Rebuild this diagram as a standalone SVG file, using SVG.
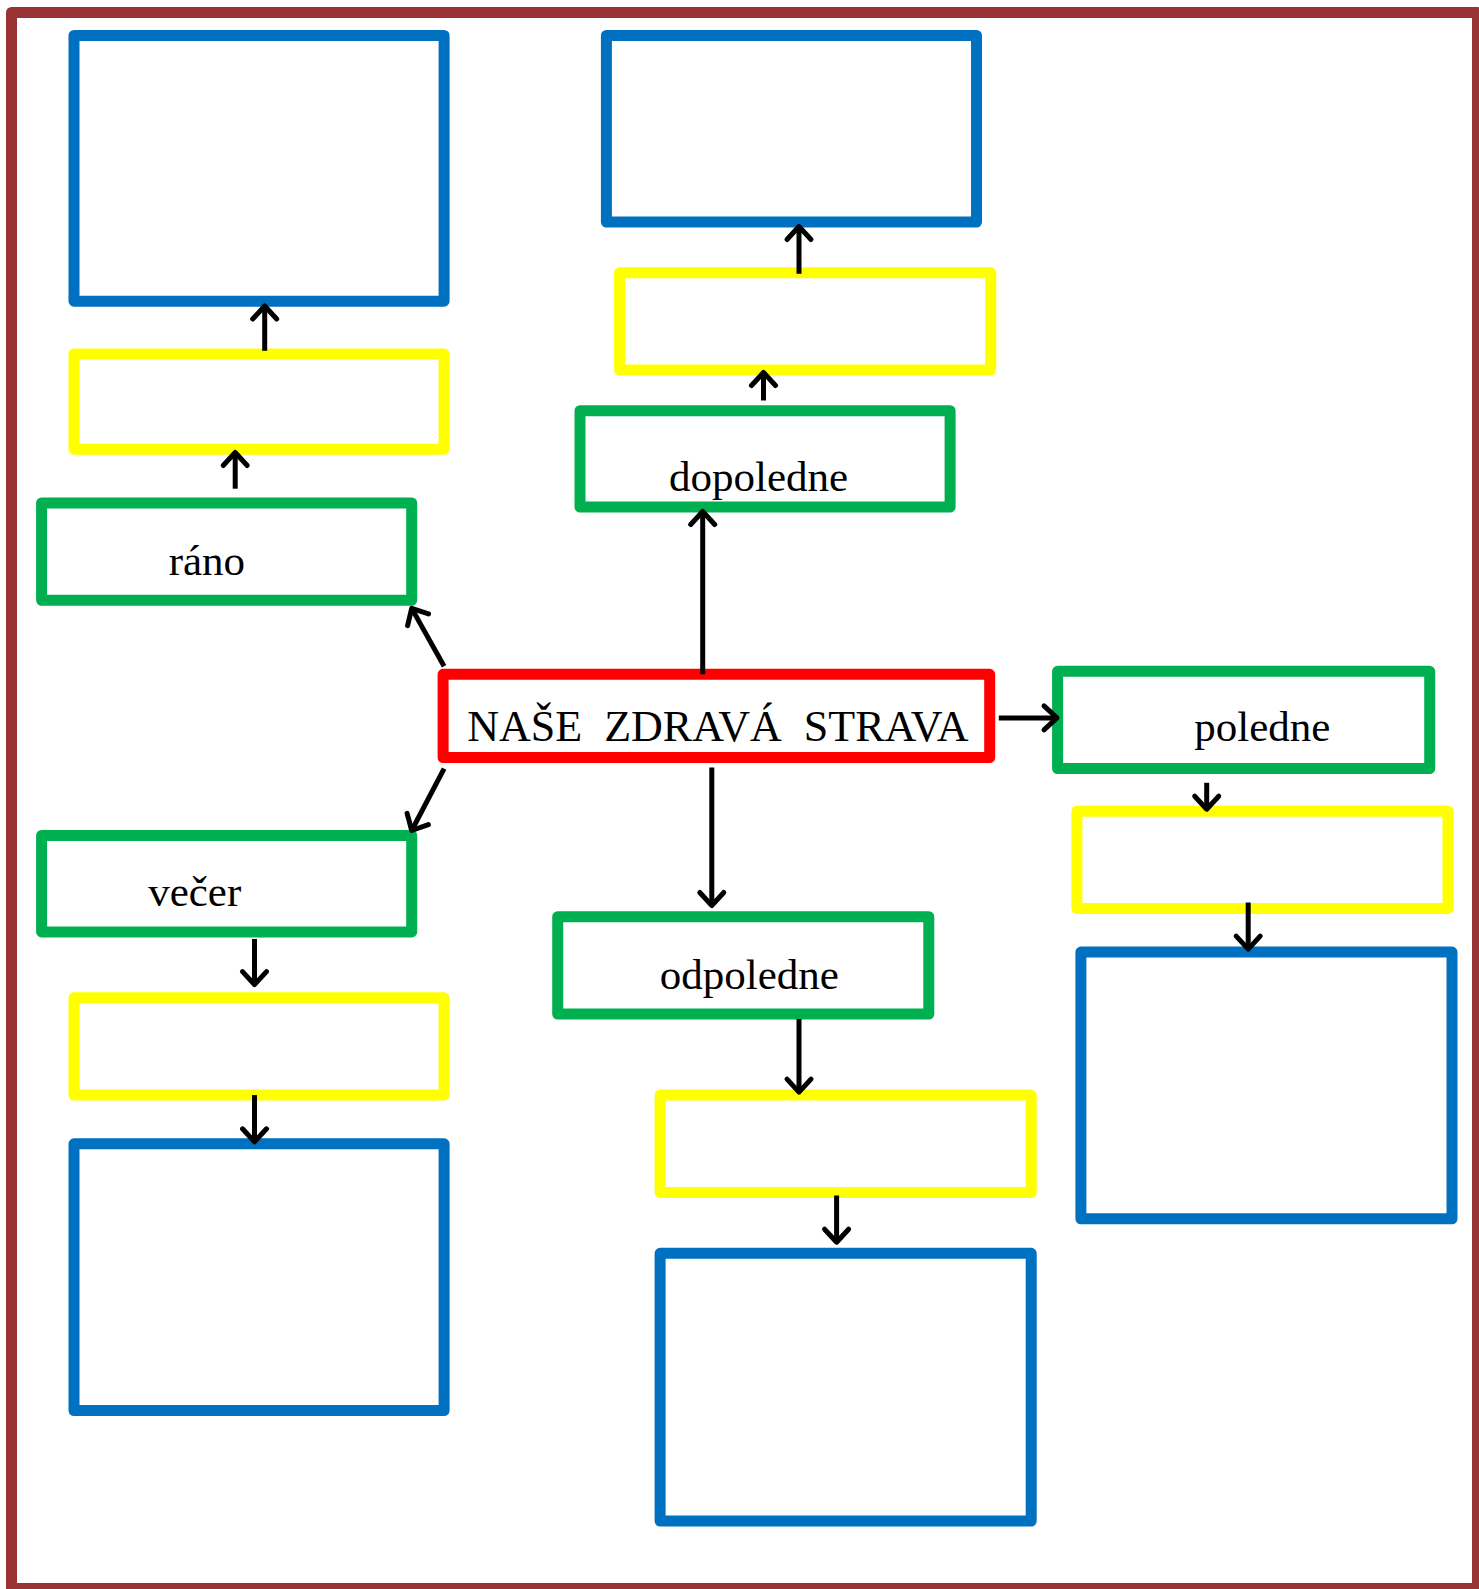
<svg xmlns="http://www.w3.org/2000/svg" width="1479" height="1589" viewBox="0 0 1479 1589">
<style>
.b{fill:none;stroke-width:11;stroke-linejoin:round}
.blue{stroke:#0070C0}
.yel{stroke:#FFFF00}
.grn{stroke:#00B050}
.red{stroke:#FF0000}
.t{font-family:"Liberation Serif","Times New Roman",serif;font-size:43px;fill:#000;text-anchor:middle}
.title{font-size:44px}
.c{fill:none;stroke:#000;stroke-width:5;marker-end:url(#ah)}
</style>
<defs>
<marker id="ah" markerUnits="userSpaceOnUse" markerWidth="40" markerHeight="40" viewBox="-20 -20 40 40" refX="0" refY="0" orient="auto">
<path d="M-13,-12 L0,0 L-13,12" fill="none" stroke="#000" stroke-width="5" stroke-linecap="round" stroke-linejoin="round"/>
</marker>
</defs>
<rect x="0" y="0" width="1479" height="1589" fill="#fff"/>
<rect id="frame" x="11.5" y="12.5" width="1466" height="1576" fill="none" stroke="#993333" stroke-width="11" stroke-linejoin="round"/>

<g id="blue-rano"><rect class="b blue" x="74" y="35.5" width="370.1" height="265.7"/></g>
<g id="yellow-rano"><rect class="b yel" x="74" y="353.9" width="370.1" height="95.3"/></g>
<g id="green-rano"><rect class="b grn" x="41.6" y="502.9" width="370.1" height="97.4"/><text class="t" x="206.9" y="574.9">ráno</text></g>

<g id="blue-dopoledne"><rect class="b blue" x="606.4" y="35.5" width="370.1" height="186.6"/></g>
<g id="yellow-dopoledne"><rect class="b yel" x="619.6" y="272.8" width="371.1" height="97.3"/></g>
<g id="green-dopoledne"><rect class="b grn" x="580" y="410.7" width="370.1" height="96.3"/><text class="t" x="758.5" y="490.8">dopoledne</text></g>

<g id="center"><rect class="b red" x="443.1" y="674.3" width="546.6" height="83.2"/><text class="t title" x="717.9" y="741.2" xml:space="preserve">NAŠE  ZDRAVÁ  STRAVA</text></g>

<g id="green-poledne"><rect class="b grn" x="1057.6" y="671.3" width="372.1" height="97.3"/><text class="t" x="1262.4" y="741.2">poledne</text></g>
<g id="yellow-poledne"><rect class="b yel" x="1076.9" y="811.2" width="371.1" height="97.3"/></g>
<g id="blue-poledne"><rect class="b blue" x="1080.9" y="952.1" width="371.1" height="266.7"/></g>

<g id="green-vecer"><rect class="b grn" x="41.6" y="835.5" width="370.1" height="96.4"/><text class="t" x="194.7" y="905.5">večer</text></g>
<g id="yellow-vecer"><rect class="b yel" x="74" y="997.8" width="370.1" height="97.3"/></g>
<g id="blue-vecer"><rect class="b blue" x="74" y="1143.8" width="370.1" height="266.7"/></g>

<g id="green-odpoledne"><rect class="b grn" x="557.7" y="916.7" width="371.1" height="97.3"/><text class="t" x="749.3" y="988.7">odpoledne</text></g>
<g id="yellow-odpoledne"><rect class="b yel" x="660.1" y="1095.1" width="371.1" height="97.4"/></g>
<g id="blue-odpoledne"><rect class="b blue" x="660.1" y="1253.3" width="371.1" height="267.7"/></g>

<g id="connectors">
<line class="c" x1="264.7" y1="350.8" x2="264.7" y2="306"/>
<line class="c" x1="235.2" y1="488.7" x2="235.2" y2="452.5"/>
<line class="c" x1="444.1" y1="666.2" x2="411.7" y2="608.4"/>
<line class="c" x1="702.7" y1="674.3" x2="702.7" y2="511.5"/>
<line class="c" x1="763.5" y1="400.5" x2="763.5" y2="372.5"/>
<line class="c" x1="799" y1="273.8" x2="799" y2="226.5"/>
<line class="c" x1="998.8" y1="717.9" x2="1057" y2="717.9"/>
<line class="c" x1="1206.7" y1="782.8" x2="1206.7" y2="809.2"/>
<line class="c" x1="1248.2" y1="902.5" x2="1248.2" y2="949.1"/>
<line class="c" x1="444.1" y1="768.6" x2="411.7" y2="830.5"/>
<line class="c" x1="254.5" y1="939" x2="254.5" y2="984.6"/>
<line class="c" x1="254.5" y1="1095.1" x2="254.5" y2="1141.8"/>
<line class="c" x1="711.8" y1="767.6" x2="711.8" y2="905.5"/>
<line class="c" x1="799" y1="1019" x2="799" y2="1092.1"/>
<line class="c" x1="836.6" y1="1195.5" x2="836.6" y2="1242.2"/>
</g>
</svg>
